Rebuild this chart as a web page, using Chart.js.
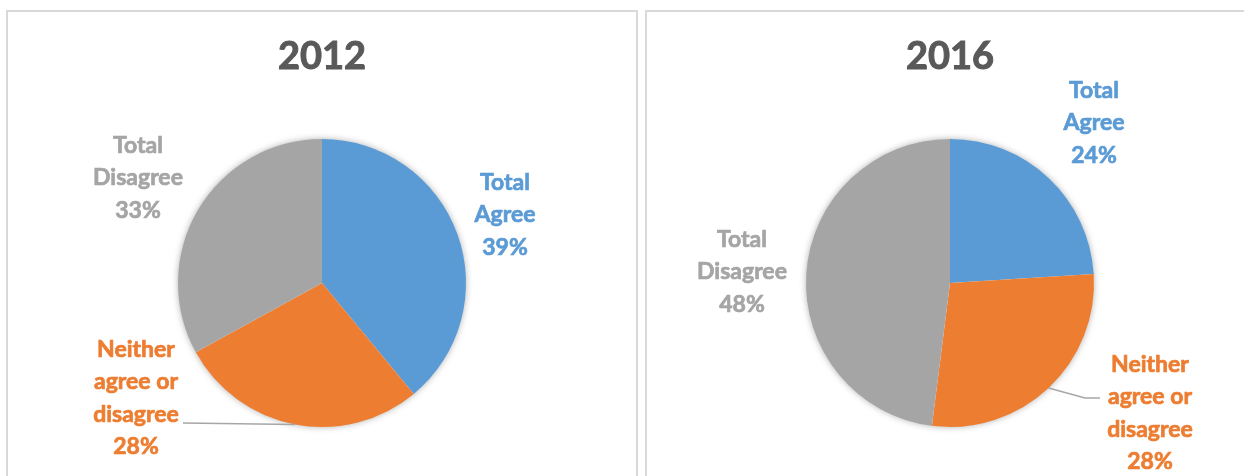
<!DOCTYPE html>
<html lang="en">
<head>
  <meta charset="UTF-8">
  <title>Agreement 2012 vs 2016</title>
  <script src="https://cdn.jsdelivr.net/npm/chart.js"></script>
  <style>
    body   { margin: 0; background: #fff; width: 1244px; height: 476px; overflow: hidden; position: relative; }
    .panel { position: absolute; top: 10px; height: 520px; border: 2px solid #d9d9d9; box-sizing: border-box; }
    canvas { position: absolute; top: 10px; }
  </style>
</head>
<body>

  <div class="panel" style="left:6px; width:632px;"></div>
  <div class="panel" style="left:645px; width:620px;"></div>

  <canvas id="chart2012" width="631" height="466" style="left:6px;"></canvas>
  <canvas id="chart2016" width="599" height="466" style="left:645px;"></canvas>

<script>
  // categories and shares (%)
  const categories  = ['Total Agree', 'Neither agree or disagree', 'Total Disagree'];
  const labelLines  = [['Total', 'Agree'], ['Neither', 'agree or', 'disagree'], ['Total', 'Disagree']];
  const values2012  = [39, 28, 33];
  const values2016  = [24, 28, 48];
  const colors      = ['#5B9BD5', '#ED7D31', '#A5A5A5'];

  const FONT = 'Lato, "Open Sans", sans-serif';
  const TITLE_SIZE = 38, TITLE_PAD_TOP = 24;

  // soft shadow under the whole pie + outside labels with optional leader lines
  const pieExtras = {
    id: 'pieExtras',
    beforeDatasetsDraw(chart) {
      const arc = chart.getDatasetMeta(0).data[0];
      if (!arc) return;
      const ctx = chart.ctx;
      ctx.save();
      ctx.shadowColor = 'rgba(0,0,0,0.35)';
      ctx.shadowBlur = 7;
      ctx.fillStyle = '#fff';
      ctx.beginPath();
      ctx.arc(arc.x, arc.y, arc.outerRadius - 0.5, 0, Math.PI * 2);
      ctx.fill();
      ctx.restore();
    },
    afterDatasetsDraw(chart, args, opts) {
      const ctx = chart.ctx;
      const meta = chart.getDatasetMeta(0);
      const values = chart.data.datasets[0].data;
      meta.data.forEach((arc, i) => {
        const p = opts.place[i];
        const cx = arc.x, cy = arc.y;
        // leader line from the slice's outer edge
        if (p.leader) {
          const mid = (arc.startAngle + arc.endAngle) / 2;
          ctx.save();
          ctx.strokeStyle = '#A6A6A6';
          ctx.lineWidth = 1.5;
          ctx.beginPath();
          ctx.moveTo(cx + Math.cos(mid) * arc.outerRadius, cy + Math.sin(mid) * arc.outerRadius);
          p.leader.forEach(pt => ctx.lineTo(cx + pt[0], cy + pt[1]));
          ctx.stroke();
          ctx.restore();
        }
        const lines = labelLines[i].concat([values[i] + '%']);
        const lh = 32.5;
        const x = cx + p.dx;
        let y = cy + p.dy - (lines.length - 1) * lh / 2;
        ctx.save();
        ctx.font = 'bold 23px ' + FONT;
        ctx.fillStyle = colors[i];
        ctx.strokeStyle = colors[i];
        ctx.lineWidth = 0.7;
        ctx.textAlign = 'center';
        ctx.textBaseline = 'middle';
        lines.forEach(t => { ctx.fillText(t, x, y); ctx.strokeText(t, x, y); y += lh; });
        ctx.restore();
      });
    },
    // thicken the title a bit
    afterDraw(chart) {
      const tb = chart.titleBlock;
      if (!tb) return;
      const ctx = chart.ctx;
      ctx.save();
      ctx.font = 'bold ' + TITLE_SIZE + 'px ' + FONT;
      ctx.strokeStyle = '#595959';
      ctx.lineWidth = 1;
      ctx.textAlign = 'center';
      ctx.textBaseline = 'middle';
      ctx.strokeText(chart.options.plugins.title.text, tb.left + tb.width / 2, tb.top + TITLE_PAD_TOP + TITLE_SIZE * 0.6);
      ctx.restore();
    }
  };

  function makePie(id, year, values, place, padLR) {
    new Chart(document.getElementById(id), {
      type: 'pie',
      data: {
        labels: categories,
        datasets: [{ data: values, backgroundColor: colors, borderWidth: 0, hoverOffset: 0 }]
      },
      options: {
        responsive: false,
        animation: false,
        events: [],
        layout: { padding: { left: padLR[0], right: padLR[1], top: 0, bottom: 49 } },
        plugins: {
          legend: { display: false },
          tooltip: { enabled: false },
          title: {
            display: true,
            text: year,
            color: '#595959',
            font: { family: FONT, size: TITLE_SIZE, weight: 'bold', lineHeight: 1.2 },
            padding: { top: TITLE_PAD_TOP, bottom: 59.4 }
          },
          pieExtras: { place }
        }
      },
      plugins: [pieExtras]
    });
  }

  makePie('chart2012', '2012', values2012, [
    { dx: 183, dy: -68 },
    { dx: -186, dy: 115, leader: [[-139, 140]] },
    { dx: -184, dy: -105 }
  ], [172, 171]);

  makePie('chart2016', '2016', values2016, [
    { dx: 144, dy: -160 },
    { dx: 200, dy: 130, leader: [[135, 115], [150, 115]] },
    { dx: -208, dy: -11 }
  ], [161, 150]);
</script>

</body>
</html>
